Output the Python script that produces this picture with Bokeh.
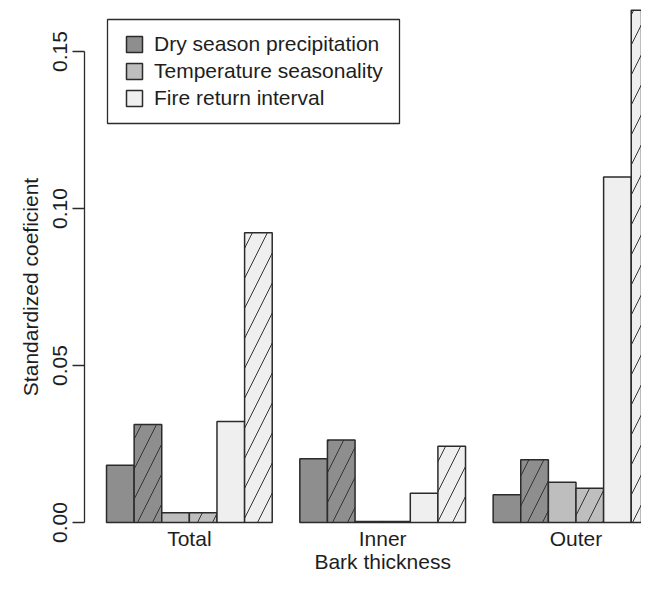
from bokeh.plotting import figure
from bokeh.models import Range1d, FixedTicker, Legend, LegendItem, PrintfTickFormatter, BoxAnnotation
from bokeh.core.properties import value
from bokeh.embed import file_html
from bokeh.resources import INLINE

# ---- data ----
groups = ["Total", "Inner", "Outer"]
series = ["Dry season precipitation", "Temperature seasonality", "Fire return interval"]
dry_plain = [0.0182, 0.0203, 0.0088]
dry_hatched = [0.0312, 0.0263, 0.0200]
temp_plain = [0.0031, 0.0003, 0.0128]
temp_hatched = [0.0031, 0.0003, 0.0109]
fire_plain = [0.0322, 0.0093, 0.1100]
fire_hatched = [0.0923, 0.0243, 0.1631]
y_ticks = [0.00, 0.05, 0.10, 0.15]
x_label = "Bark thickness"
y_label = "Standardized coeficient"

pairs = [(dry_plain, dry_hatched), (temp_plain, temp_hatched), (fire_plain, fire_hatched)]

# ---- style ----
FONT = "Liberation Sans"
TXT = "#1e1e1e"
LINE = "#2b2b2b"
fills = ["#8e8e8e", "#bebebe", "#efefef"]
FS = "21px"

p = figure(width=641, height=573, output_backend="svg", toolbar_location=None, title=None,
           x_axis_location=None,
           x_range=Range1d(0.2028, 20.372), y_range=Range1d(-0.016242, 0.16624),
           min_border_left=84, min_border_right=0, min_border_top=0, min_border_bottom=0)
p.outline_line_color = None
p.xgrid.visible = False
p.ygrid.visible = False
p.background_fill_color = "white"
p.border_fill_color = "white"

n_per_group = 2 * len(pairs)
stride = n_per_group + 1

plain_renderers = []
for k, (plain, hatched) in enumerate(pairs):
    xs_plain = [1.5 + stride * g + 2 * k for g in range(len(groups))]
    xs_hatch = [x + 1 for x in xs_plain]
    r = p.vbar(x=xs_plain, top=plain, bottom=0, width=1, fill_color=fills[k],
               line_color=LINE, line_width=1.5)
    plain_renderers.append(r)
    p.vbar(x=xs_hatch, top=hatched, bottom=0, width=1, fill_color=fills[k],
           line_color=LINE, line_width=1.5, hatch_pattern="/", hatch_scale=30,
           hatch_color="#333333", hatch_weight=1)

# y axis
yax = p.yaxis[0]
yax.ticker = FixedTicker(ticks=y_ticks)
yax.formatter = PrintfTickFormatter(format="%.2f")
yax.bounds = (0, 0.15)
yax.major_label_orientation = "vertical"
yax.major_tick_out = 12
yax.major_tick_in = 0
yax.minor_tick_line_color = None
yax.axis_line_color = LINE
yax.axis_line_width = 1.3
yax.major_tick_line_color = LINE
yax.major_tick_line_width = 1.3
yax.major_label_text_font = FONT
yax.major_label_text_font_size = FS
yax.major_label_text_color = TXT
yax.major_label_standoff = 5
yax.axis_label = y_label
yax.axis_label_text_font = FONT
yax.axis_label_text_font_size = FS
yax.axis_label_text_font_style = "normal"
yax.axis_label_text_color = TXT
yax.axis_label_standoff = 9

# category labels and x title, placed under the bars via the data scales
centers = [1 + stride * g + n_per_group / 2 for g in range(len(groups))]
p.text(x=centers, y=[0] * len(groups), text=groups, y_offset=16,
       text_align="center", text_baseline="alphabetic", text_font=value(FONT),
       text_font_size=value(FS), text_color=TXT)
p.text(x=[centers[1]], y=[0], text=[x_label], y_offset=39,
       text_align="center", text_baseline="alphabetic", text_font=value(FONT),
       text_font_size=value(FS), text_color=TXT)

legend = Legend(items=[LegendItem(label=s, renderers=[r]) for s, r in zip(series, plain_renderers)],
                location=(40, 463))
legend.label_text_font = FONT
legend.label_text_font_size = FS
legend.label_text_color = TXT
legend.glyph_width = 20
legend.glyph_height = 20
legend.label_height = 25
legend.spacing = 2
legend.padding = 12
legend.margin = 0
legend.label_standoff = 10
legend.border_line_color = None
legend.background_fill_alpha = 0
p.add_layout(legend)

frame_box = BoxAnnotation(left=23, right=315, top=554, bottom=450,
                          left_units="screen", right_units="screen",
                          top_units="screen", bottom_units="screen",
                          fill_color=None, line_color=LINE, line_alpha=1, line_width=1.3)
p.add_layout(frame_box)

open("out.html", "w").write(file_html(p, INLINE))
